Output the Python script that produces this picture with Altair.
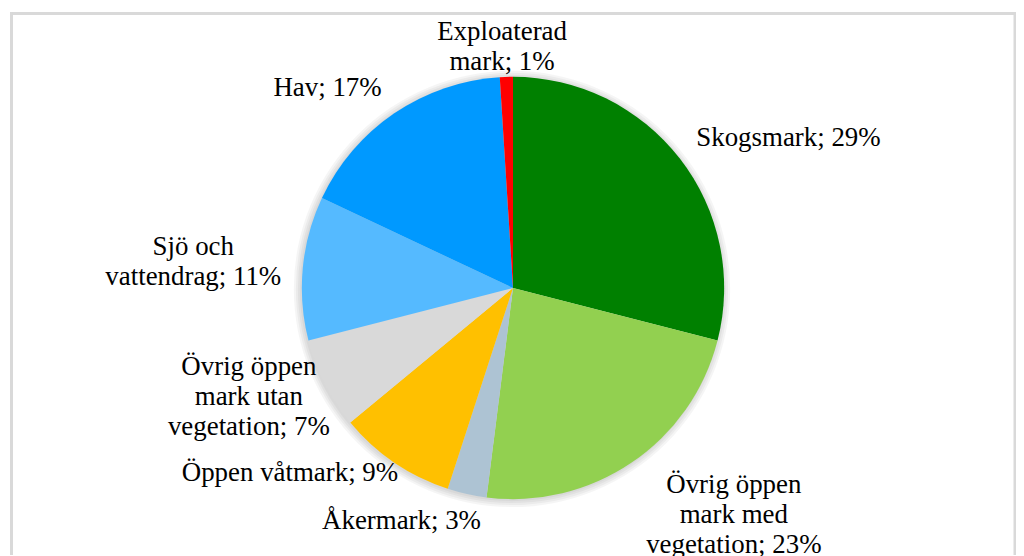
import altair as alt
import numpy as np
import pandas as pd

categories = [
    "Skogsmark",
    "Övrig öppen mark med vegetation",
    "Åkermark",
    "Öppen våtmark",
    "Övrig öppen mark utan vegetation",
    "Sjö och vattendrag",
    "Hav",
    "Exploaterad mark",
]
values = [29, 23, 3, 9, 7, 11, 17, 1]
label_texts = [
    "Skogsmark; 29%",
    "Övrig öppen\nmark med\nvegetation; 23%",
    "Åkermark; 3%",
    "Öppen våtmark; 9%",
    "Övrig öppen\nmark utan\nvegetation; 7%",
    "Sjö och\nvattendrag; 11%",
    "Hav; 17%",
    "Exploaterad\nmark; 1%",
]
colors = ["#008000", "#92D050", "#ADC3D3", "#FFC000", "#D9D9D9", "#55BAFF", "#0099FF", "#FF0000"]

# layout (label placement relative to slice mid-angle)
label_shift_deg = [9.2, -10.0, 13.0, 16.1, 4.5, -0.8, -8.6, -0.8]
label_dist = [315, 318, 259, 291, 287, 322, 274, 242]
LINE_H = 30

CX, CY, R = 507, 280, 212
W, H = 1012, 548

df = pd.DataFrame({"cat": categories, "value": values, "order": list(range(len(values)))})

total = float(sum(values))
cum = np.cumsum(values)
mid = (cum - np.array(values) / 2.0) / total * 360.0
ang = np.radians(mid + np.array(label_shift_deg))
nlines = np.array([t.count("\n") + 1 for t in label_texts])
lab = pd.DataFrame({
    "text": label_texts,
    "x": CX + np.array(label_dist) * np.sin(ang),
    "y": CY - np.array(label_dist) * np.cos(ang) - (nlines - 1) * LINE_H / 2.0,
})

pie = alt.Chart(df).mark_arc(outerRadius=R, stroke=None).encode(
    theta=alt.Theta("value:Q", stack=True, scale=alt.Scale(range=[0, 2 * np.pi])),
    order=alt.Order("order:Q"),
    color=alt.Color("cat:N", scale=alt.Scale(domain=categories, range=colors), legend=None),
    x=alt.value(CX),
    y=alt.value(CY),
)

one = pd.DataFrame({"k": [0]})
shadows = [
    alt.Chart(one).mark_arc(color="#000000", opacity=0.04, outerRadius=R + d).encode(
        theta=alt.value(0), theta2=alt.value(2 * np.pi),
        x=alt.value(CX - 1), y=alt.value(CY + 1),
    )
    for d in (1, 3, 5, 7)
]

labels = alt.Chart(lab).mark_text(
    font="Liberation Serif", fontSize=27, color="#000000", align="center",
    baseline="middle", lineBreak="\n", lineHeight=LINE_H,
).encode(
    x=alt.X("x:Q", scale=None, axis=None),
    y=alt.Y("y:Q", scale=None, axis=None),
    text="text:N",
)

fc = "#D9D9D9"
top = alt.Chart(one).mark_rule(color=fc, strokeWidth=3).encode(
    x=alt.value(3.5), x2=alt.value(1011), y=alt.value(4.5))
left = alt.Chart(one).mark_rule(color=fc, strokeWidth=3).encode(
    x=alt.value(3.5), y=alt.value(3), y2=alt.value(H))
right = alt.Chart(one).mark_rule(color=fc, strokeWidth=3).encode(
    x=alt.value(1011), y=alt.value(3), y2=alt.value(H))

chart = alt.layer(top, left, right, *shadows, pie, labels).properties(
    width=W, height=H, autosize=alt.AutoSizeParams(type="none"), padding=0,
    background="#FFFFFF",
).configure_view(stroke=None)

chart.save("out.html", embed_options={"renderer": "svg", "actions": False})
